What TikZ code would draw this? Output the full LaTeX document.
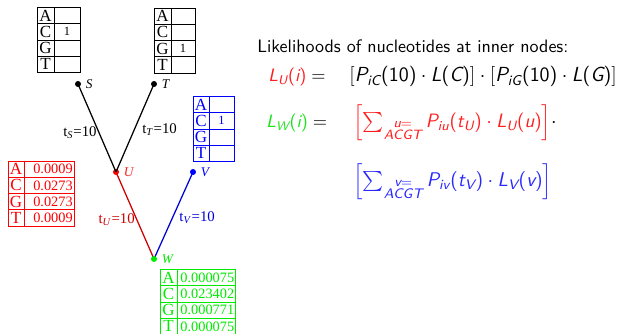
\documentclass[tikz,border=0pt]{standalone}
\usepackage{amsmath}
\usepackage{fontspec}
\newfontfamily\tnr{Liberation Serif}
\definecolor{tred}{RGB}{255,0,0}
\definecolor{tgreen}{RGB}{0,235,0}
\definecolor{tblue}{RGB}{0,0,255}
\definecolor{ered}{RGB}{205,0,0}
\definecolor{eblue}{RGB}{0,0,215}
\definecolor{txred}{RGB}{255,30,30}
\definecolor{txgreen}{RGB}{30,225,30}
\definecolor{txblue}{RGB}{40,40,255}
\newcommand{\sv}[1]{\textsf{\itshape #1}}
\newcommand{\sn}[1]{\textsf{#1}}
\newcommand{\pa}[1]{\sn{(}#1\sn{)}}
\tikzset{
  tabbox/.style={draw, inner sep=0pt, line width=0.6pt, minimum height=39pt},
  tabline/.style={line width=0.5pt},
  tletter/.style={inner sep=0pt, font=\tnr\fontsize{10.2}{12}\selectfont},
  tnum/.style={inner sep=0pt, font=\tnr\fontsize{8.6}{10}\selectfont},
  tone/.style={inner sep=0pt, font=\tnr\fontsize{7.5}{9}\selectfont},
  dot/.style={circle, fill=black, inner sep=0pt, minimum size=3.6pt},
  nlbl/.style={inner sep=0.5pt, label distance=2pt, font=\tnr\itshape\fontsize{8}{10}\selectfont},
  elbl/.style={inner sep=1pt, font=\tnr\fontsize{8.9}{10}\selectfont},
  edge/.style={line width=0.75pt},
  txt/.style={inner sep=0pt, font=\fontsize{10.8}{13}\selectfont},
  mtxt/.style={inner sep=0pt, font=\fontsize{11.6}{14}\selectfont}
}
\newcommand{\nuctab}[6]{%
  \node[tabbox, draw=#6, minimum width={(#4-#2)*0.6pt}, anchor=north west] (#1) at (#2,#3) {};
  \draw[tabline, #6] (#5,#3) -- (#5,{#3+65});
  \foreach \k in {1,2,3} \draw[tabline, #6] (#2,{#3+\k*16.25}) -- (#4,{#3+\k*16.25});
  \foreach \nucl [count=\i] in {A,C,G,T}
    \node[tletter, text=#6] at ({(#2+#5)/2},{#3+(\i-0.5)*16.25}) {\nucl};
}
\begin{document}
\begin{tikzpicture}[x=0.6pt,y=-0.6pt]
\useasboundingbox (0,0) rectangle (627,334);
% tables
\nuctab{tabS}{37}{7.5}{80}{54}{black}
\nuctab{tabT}{154}{8}{195}{171}{black}
\nuctab{tabV}{193}{96.5}{234}{209}{tblue}
\nuctab{tabU}{8}{161}{74}{24}{tred}
\nuctab{tabW}{160}{269.5}{235}{177}{tgreen}
\node[tone] (vS) at (67,{7.5+1.5*16.25}) {1};
\node[tone] (vT) at (183,{8+2.5*16.25}) {1};
\node[tone, text=tblue] (vV) at (221.5,{96.5+1.5*16.25}) {1};
\foreach \v [count=\i] in {0.0009,0.0273,0.0273,0.0009}
  \node[tnum, text=tred, anchor=east] (vU\i) at (73,{161+(\i-0.5)*16.25}) {\v};
\foreach \v [count=\i] in {0.000075,0.023402,0.000771,0.000075}
  \node[tnum, text=tgreen, anchor=east] (vW\i) at (234.5,{269.5+(\i-0.5)*16.25}) {\v};
% tree
\draw[edge, ered] (116,172) -- (154,259);
\draw[edge, eblue] (193,172) -- (154,259);
\node[dot, label={[nlbl]0:\textit{S}}] (S) at (78,84) {};
\node[dot, label={[nlbl]0:\textit{T}}] (T) at (154,84) {};
\node[dot, fill=tred, label={[nlbl, text=txred]0:\textit{U}}] (U) at (116,172) {};
\node[dot, fill=tblue, label={[nlbl, text=tblue]0:\textit{V}}] (V) at (193,172) {};
\node[dot, fill=tgreen, label={[nlbl, text=tgreen]0:\textit{W}}] (W) at (154,259) {};
\draw[edge] (S.center) -- node[elbl, pos=0.55, anchor=east] {t\textsubscript{\textit{S}}=10} (U.center);
\draw[edge] (T.center) -- node[elbl, pos=0.52, anchor=west, xshift=3.5pt] {t\textsubscript{\textit{T}}=10} (U.center);
\path (U) -- node[elbl, pos=0.55, anchor=east, text=ered] {t\textsubscript{\textit{U}}=10} (W);
\path (V) -- node[elbl, pos=0.53, anchor=west, xshift=3pt, text=eblue] {t\textsubscript{\textit{V}}=10} (W);
% formulas
\node[txt, anchor=base west] (title) at (257,53) {\sffamily Likelihoods of nucleotides at inner nodes:};
\node[txt, anchor=base west] (lu) at (268,82) {$\textcolor{txred}{\sv{L}_{\sv{U}}\pa{\sv{i}}} =$};
\node[mtxt, font=\fontsize{12.2}{14}\selectfont, anchor=base west] (luexp) at (349,82) {$[\sv{P}_{\sv{iC}}\pa{\sn{10}}\cdot\sv{L}\pa{\sv{C}}]\cdot[\sv{P}_{\sv{iG}}\pa{\sn{10}}\cdot\sv{L}\pa{\sv{G}}]$};
\node[txt, anchor=base west] (lw) at (266,128) {$\textcolor{txgreen}{\sv{L}_{\sv{W}}\pa{\sv{i}}} =$};
\node[mtxt, anchor=base west] (lwexp1) at (353,128) {$\textcolor{txred}{\Bigl[\sum_{\substack{\sv{u}=\\ \sv{ACGT}}} \sv{P}_{\sv{iu}}\pa{\sv{t}_{\sv{U}}}\cdot\sv{L}_{\sv{U}}\pa{\sv{u}}\Bigr]}\cdot$};
\node[mtxt, font=\fontsize{11.9}{14}\selectfont, anchor=base west] (lwexp2) at (353,187) {$\textcolor{txblue}{\Bigl[\sum_{\substack{\sv{v}=\\ \sv{ACGT}}} \sv{P}_{\sv{iv}}\pa{\sv{t}_{\sv{V}}}\cdot\sv{L}_{\sv{V}}\pa{\sv{v}}\Bigr]}$};
\end{tikzpicture}
\end{document}
